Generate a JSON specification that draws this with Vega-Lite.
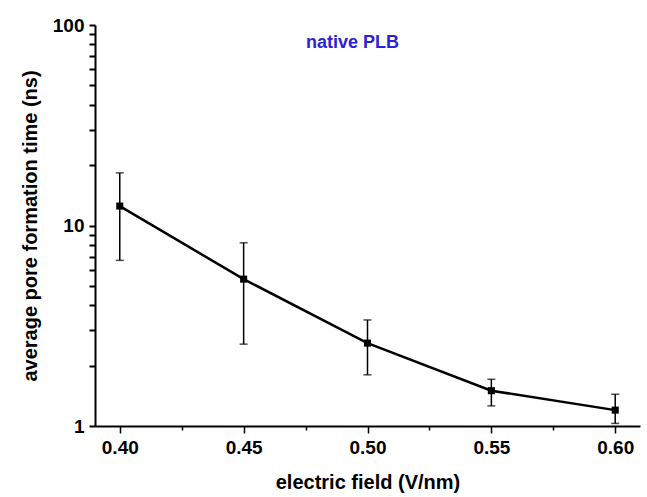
{
  "$schema": "https://vega.github.io/schema/vega-lite/v6.json",
  "width": 545,
  "height": 401,
  "autosize": {"type": "none"},
  "padding": {"left": 95, "top": 25, "right": 7, "bottom": 71},
  "background": "white",
  "config": {"view": {"stroke": null}, "font": "Liberation Sans"},
  "title": {"text": "native PLB", "anchor": "middle", "offset": -36, "dx": -15, "fontSize": 18, "font": "Liberation Sans", "fontWeight": "bold", "color": "#2b22d6"},
  "data": {"values": [
    {"field": 0.40, "time": 12.5, "lo": 6.7, "hi": 18.3},
    {"field": 0.45, "time": 5.4, "lo": 2.56, "hi": 8.2},
    {"field": 0.50, "time": 2.59, "lo": 1.80, "hi": 3.38},
    {"field": 0.55, "time": 1.50, "lo": 1.26, "hi": 1.71},
    {"field": 0.60, "time": 1.20, "lo": 1.03, "hi": 1.44}
  ]},
  "encoding": {
    "x": {"field": "field", "type": "quantitative",
      "scale": {"domain": [0.39, 0.61], "nice": false, "zero": false},
      "axis": {"title": "electric field (V/nm)", "values": [0.4, 0.425, 0.45, 0.475, 0.5, 0.525, 0.55, 0.575, 0.6],
        "labelExpr": "round(datum.value*1000) % 50 == 0 ? format(datum.value, '.2f') : ''",
        "tickSize": {"condition": {"test": "round(datum.value*1000) % 50 == 0", "value": 7}, "value": 4},
        "grid": false, "domainColor": "black", "domainWidth": 2, "tickColor": "black", "tickWidth": 1.5,
        "labelFont": "Liberation Sans", "labelFontSize": 19, "labelFontWeight": "bold", "labelColor": "black", "labelPadding": 5,
        "labelOverlap": false, "labelFlush": false,
        "titleFont": "Liberation Sans", "titleFontSize": 20, "titleFontWeight": "bold", "titleColor": "black", "titlePadding": 15}}
  },
  "layer": [
    {"mark": {"type": "line", "color": "black", "strokeWidth": 2.5},
     "encoding": {"y": {"field": "time", "type": "quantitative",
         "scale": {"type": "log", "domain": [1, 100], "nice": false},
         "axis": {"title": "average pore formation time (ns)", "values": [1,2,3,4,5,6,7,8,9,10,20,30,40,50,60,70,80,90,100],
           "labelExpr": "datum.value==1||datum.value==10||datum.value==100 ? format(datum.value,'d') : ''",
           "tickSize": 6,
           "grid": false, "domainColor": "black", "domainWidth": 2, "tickColor": "black", "tickWidth": 2,
           "labelFont": "Liberation Sans", "labelFontSize": 19, "labelFontWeight": "bold", "labelColor": "black", "labelPadding": 5,
           "labelOverlap": false, "labelFlush": false,
           "titleFont": "Liberation Sans", "titleFontSize": 20, "titleFontWeight": "bold", "titleColor": "black", "titlePadding": 12}}}},
    {"mark": {"type": "rule", "color": "black", "strokeWidth": 1.5},
     "encoding": {
       "y": {"field": "lo", "type": "quantitative", "axis": {"title": "average pore formation time (ns)"}},
       "y2": {"field": "hi"}
     }},
    {"mark": {"type": "tick", "orient": "horizontal", "color": "black", "size": 8, "thickness": 1.5},
     "encoding": {"y": {"field": "lo", "type": "quantitative", "axis": {"title": "average pore formation time (ns)"}}}},
    {"mark": {"type": "tick", "orient": "horizontal", "color": "black", "size": 8, "thickness": 1.5},
     "encoding": {"y": {"field": "hi", "type": "quantitative", "axis": {"title": "average pore formation time (ns)"}}}},
    {"mark": {"type": "point", "shape": "square", "filled": true, "color": "black", "size": 50, "opacity": 1},
     "encoding": {"y": {"field": "time", "type": "quantitative", "axis": {"title": "average pore formation time (ns)"}}}}
  ]
}
